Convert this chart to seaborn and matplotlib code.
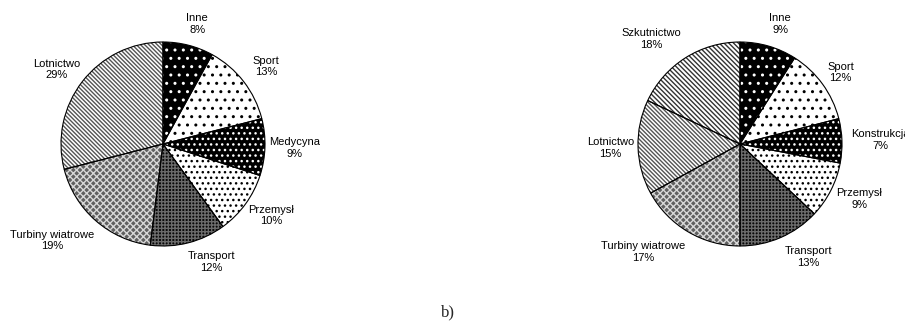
import numpy as np
import matplotlib
matplotlib.use("Agg")
import matplotlib.pyplot as plt
import seaborn as sns

# Left pie: application shares
left_labels = ["Inne", "Sport", "Medycyna", "Przemysł", "Transport",
               "Turbiny wiatrowe", "Lotnictwo"]
left_values = [8, 13, 9, 10, 12, 19, 29]

# Right pie: application shares
right_labels = ["Inne", "Sport", "Konstrukcja", "Przemysł", "Transport",
                "Turbiny wiatrowe", "Lotnictwo", "Szkutnictwo"]
right_values = [9, 12, 7, 9, 13, 17, 15, 18]

panel_label = "b)"

# fill styles per category: (face colour, hatch, hatch colour)
styles = {
    "Inne":             ("black",   "..",   "white"),
    "Sport":            ("white",   "..",   "black"),
    "Medycyna":         ("black",   "...",  "white"),
    "Konstrukcja":      ("black",   "...",  "white"),
    "Przemysł":         ("white",   "...",  "black"),
    "Transport":        ("#080808", "+" * 5, "#6a6a6a"),
    "Turbiny wiatrowe": ("#606060", "x" * 5, "#d8d8d8"),
    "Lotnictwo":        ("white",   "\\" * 8, "#555555"),
    "Szkutnictwo":      ("white",   "\\" * 7, "#333333"),
}

# small nudges of label boxes (pixels, x right / y up)
label_nudge = {
    ("L", "Inne"): (4, 2), ("L", "Sport"): (5, 3), ("L", "Medycyna"): (-5, 0),
    ("L", "Transport"): (15, 0), ("L", "Turbiny wiatrowe"): (-10, -5),
    ("R", "Inne"): (6, 3), ("R", "Transport"): (15, -1),
    ("R", "Turbiny wiatrowe"): (-19, -3), ("R", "Lotnictwo"): (5, 0),
    ("R", "Szkutnictwo"): (-13, 2),
}

sns.set_theme(style="white")
plt.rcParams["font.family"] = ["Liberation Sans", "DejaVu Sans"]
plt.rcParams["hatch.linewidth"] = 1.0

W, H, DPI = 905, 325, 100
fig = plt.figure(figsize=(W / DPI, H / DPI), dpi=DPI)
fig.patch.set_facecolor("white")

R_PX = 102.0          # pie radius in pixels
HALF_W, HALF_H = 160.0, 140.0


def make_axes(cx, cy):
    return fig.add_axes([(cx - HALF_W) / W, (H - cy - HALF_H) / H,
                         2 * HALF_W / W, 2 * HALF_H / H])


def draw_pie(ax, labels, values):
    faces = [styles[l][0] for l in labels]
    wedges, _ = ax.pie(values, startangle=90, counterclock=False,
                       colors=faces, radius=1.0,
                       wedgeprops=dict(linewidth=0))
    for w, l in zip(wedges, labels):
        face, hatch, hcol = styles[l]
        w.set_hatch(hatch)
        w.set_edgecolor(hcol)
        w.set_linewidth(0)
    # outlines on top
    ax.pie(values, startangle=90, counterclock=False,
           colors=["none"] * len(values), radius=1.0,
           wedgeprops=dict(linewidth=0.8, edgecolor="black",
                           facecolor="none"))
    ax.set_xlim(-HALF_W / R_PX, HALF_W / R_PX)
    ax.set_ylim(-HALF_H / R_PX, HALF_H / R_PX)
    ax.set_aspect("auto")
    ax.axis("off")

    texts = []
    for w, l, v in zip(wedges, labels, values):
        t = ax.text(0, 0, f"{l}\n{v}%", ha="center", va="center",
                    multialignment="center", fontsize=8, color="black",
                    clip_on=False)
        texts.append((w, l, t))
    return texts


def place_labels(texts, side):
    renderer = fig.canvas.get_renderer()
    gap = 1.0 + 9.0 / R_PX
    for w, l, t in texts:
        ang = np.deg2rad((w.theta1 + w.theta2) / 2.0)
        ux, uy = np.cos(ang), np.sin(ang)
        bb = t.get_window_extent(renderer)
        bw, bh = bb.width / R_PX, bb.height / R_PX
        nx, ny = label_nudge.get((side, l), (0, 0))
        t.set_position((gap * ux + ux * bw / 2 + nx / R_PX,
                        gap * uy + uy * bh / 2 + ny / R_PX))


ax_l = make_axes(163, 144)
tl = draw_pie(ax_l, left_labels, left_values)
ax_r = make_axes(740, 144)
tr = draw_pie(ax_r, right_labels, right_values)

fig.canvas.draw()
place_labels(tl, "L")
place_labels(tr, "R")

fig.text(448 / W, 1 - 312 / H, panel_label, ha="center", va="center",
         fontsize=12, family=["Liberation Serif", "DejaVu Serif"])

fig.savefig("out.png", dpi=DPI, facecolor="white")
